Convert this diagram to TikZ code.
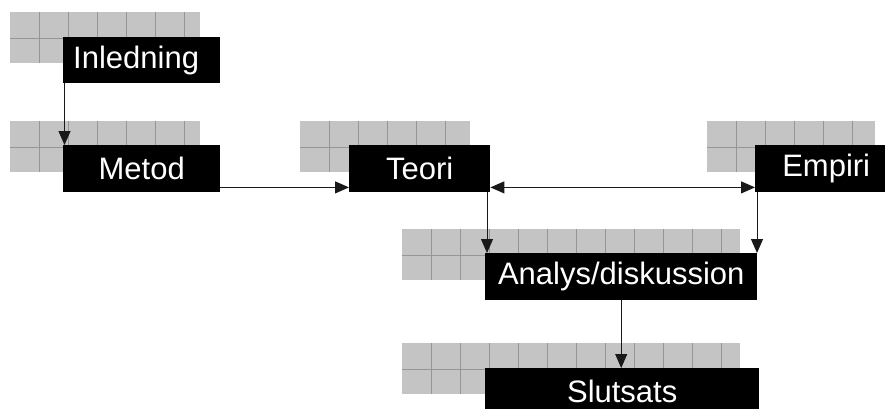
\documentclass[tikz,border=0pt]{standalone}
\usepackage{fontspec}
\setmainfont{Liberation Sans}
\usetikzlibrary{arrows.meta}

\definecolor{tilefill}{RGB}{196,196,196}
\definecolor{tileline}{RGB}{150,150,150}

\begin{document}
\begin{tikzpicture}[x=1pt, y=-1pt,
  % grey tiled panel behind each heading (cells 29 x 26)
  panel/.style={fill=tilefill, draw=none, inner sep=0pt, anchor=north west,
    minimum height=51pt,
    path picture={
      \foreach \i in {1,...,12}
        \draw[tileline, line width=0.8pt]
          ([xshift=\i*29pt]path picture bounding box.north west) --
          ([xshift=\i*29pt]path picture bounding box.south west);
      \draw[tileline, line width=0.8pt]
        ([yshift=-26pt]path picture bounding box.north west) --
        ([yshift=-26pt]path picture bounding box.north east);
    }},
  % black heading box with white text
  headbox/.style={fill=black, text=white, inner sep=0pt, anchor=north west,
    minimum height=47pt, font=\fontsize{31}{37}\selectfont},
  flow/.style={line width=1pt, draw=black!90,
    -{Triangle[width=12pt, length=14pt]}},
  both/.style={line width=1pt, draw=black!90,
    {Triangle[width=12pt, length=14pt]}-{Triangle[width=12pt, length=14pt]}}
]
\useasboundingbox (0,0) rectangle (885,409);
\fill[white] (0,0) rectangle (885,409);

% tiled panels
\node[panel, minimum width=190pt] (p1) at (10,12) {};
\node[panel, minimum width=190pt] (p2) at (10,121) {};
\node[panel, minimum width=170pt] (p3) at (300,121) {};
\node[panel, minimum width=168pt] (p4) at (707,121) {};
\node[panel, minimum width=338pt] (p5) at (402,229) {};
\node[panel, minimum width=338pt] (p6) at (402,343) {};

% headings
\node[headbox, minimum height=46pt, inner xsep=10pt, text width=137pt, align=left]
  (inl) at (63,37) {Inledning};
\node[headbox, minimum width=157pt] (met) at (63,145) {Metod};
\node[headbox, minimum width=141pt] (teo) at (349,145) {Teori};
\node[headbox, minimum width=142pt] (emp) at (755,145) {Empiri};
\node[headbox, minimum width=272pt] (ana) at (485,253) {Analys/diskussion};
\node[headbox, minimum width=274pt] (slu) at (485,368) {Slutsats};

% connectors
\coordinate (metin) at ([xshift=1.5pt]met.north west);
\draw[flow] (inl.south west -| metin) -- (metin);

\coordinate (metout) at ([yshift=5pt]met.south east);
\draw[flow] (metout) -- (metout -| teo.west);

\coordinate (teoout) at ([yshift=5pt]teo.south east);
\draw[both] (teoout) -- (teoout -| emp.west);

\coordinate (anain) at ([xshift=2pt]ana.north west);
\draw[flow] (teo.south -| anain) -- (anain);

\coordinate (anain2) at ([xshift=2pt]emp.south west);
\draw[flow] (anain2) -- (anain2 |- ana.north);

\draw[flow] (ana.south) -- (ana.south |- slu.north);
\end{tikzpicture}
\end{document}
